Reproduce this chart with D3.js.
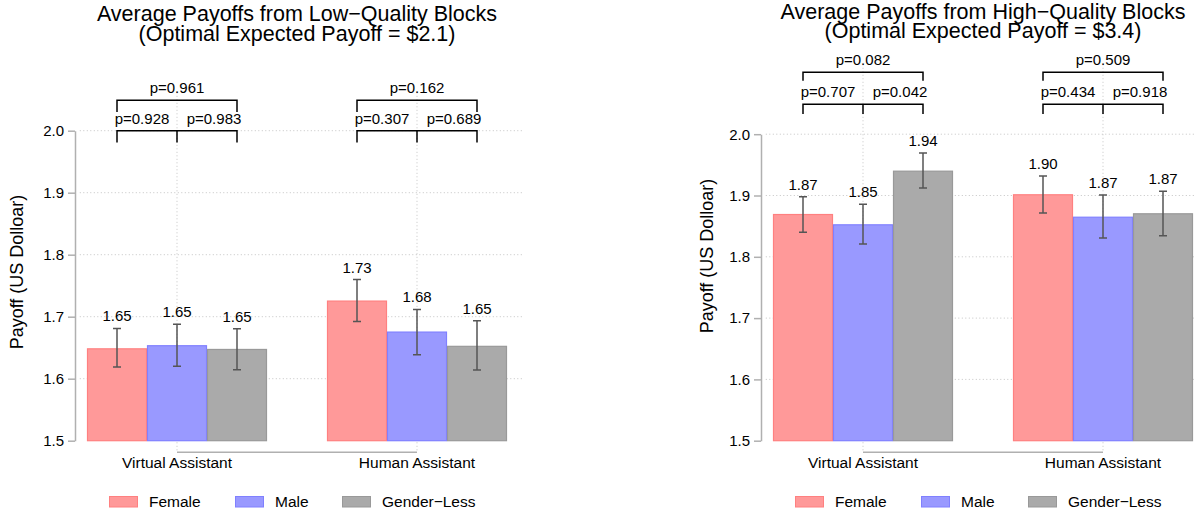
<!DOCTYPE html>
<html>
<head>
<meta charset="utf-8">
<script src="https://cdn.jsdelivr.net/npm/d3@7"></script>
<style>
  body { margin: 0; background: #fff; }
  svg { display: block; }
  text { font-family: "Liberation Sans", Arial, Helvetica, sans-serif; fill: #000; }
</style>
</head>
<body>
<svg id="chart" width="1194" height="514"></svg>
<script>
// Assistant types (groups) and assistant genders (bars within a group)
const groups = ["Virtual Assistant", "Human Assistant"];
const genders = ["Female", "Male", "Gender\u2212Less"];
const yTicks = [1.5, 1.6, 1.7, 1.8, 1.9, 2.0];

// Low-quality blocks: rows = assistant type, columns = gender
const lowMean  = [[1.649, 1.654, 1.648], [1.726, 1.676, 1.653]];
const lowLower = [[1.619, 1.620, 1.6145], [1.6924, 1.6387, 1.614]];
const lowUpper = [[1.681, 1.688, 1.6806], [1.760, 1.7118, 1.6935]];
// pairwise tests: [Female vs Male, Male vs Gender-less, Female vs Gender-less]
const lowP     = [["p=0.928", "p=0.983", "p=0.961"], ["p=0.307", "p=0.689", "p=0.162"]];

// High-quality blocks
const highMean  = [[1.8698, 1.853, 1.9405], [1.902, 1.8654, 1.871]];
const highLower = [[1.840, 1.8209, 1.9122], [1.8715, 1.8307, 1.8344]];
const highUpper = [[1.898, 1.8857, 1.9693], [1.932, 1.9008, 1.9068]];
const highP     = [["p=0.707", "p=0.042", "p=0.082"], ["p=0.434", "p=0.918", "p=0.509"]];

const fills   = ["#ff9999", "#9999ff", "#aaaaaa"];
const borders = ["#ff8080", "#8080ff", "#999999"];

const svg = d3.select("#chart");
const W = 1194;

function panel(cfg) {
  const g = svg.append("g");
  const x = d3.scaleLinear().domain([0, 8]).range([cfg.x0, cfg.x0 + 480]);
  const y = d3.scaleLinear().domain([1.5, 2.0]).range([440.7, cfg.yTop]);
  const left = (gi, si) => 1 + gi * 4 + si;
  const center = (gi, si) => left(gi, si) + 0.5;
  const gCenter = gi => 2.5 + gi * 4;
  const axisY = 452.3;

  // dotted grid
  const grid = g.append("g").attr("stroke", "#c4c4c4").attr("stroke-width", 1)
    .attr("stroke-dasharray", "1,2.5");
  grid.selectAll("line.h").data(yTicks.slice(1)).join("line").attr("class", "h")
    .attr("x1", x(0.88)).attr("x2", Math.min(x(8.28), W))
    .attr("y1", d => y(d)).attr("y2", d => y(d));
  grid.selectAll("line.v").data(groups).join("line").attr("class", "v")
    .attr("x1", (d, i) => x(gCenter(i))).attr("x2", (d, i) => x(gCenter(i)))
    .attr("y1", y(cfg.upLine) - 8).attr("y2", axisY);

  // y axis
  const ax = g.append("g").attr("transform", `translate(${x(0.8)},0)`)
    .call(d3.axisLeft(y).tickValues(yTicks).tickFormat(d3.format(".1f"))
      .tickSize(7).tickSizeOuter(0).tickPadding(4));
  ax.select(".domain").attr("stroke", "#b0b0b0").attr("stroke-width", 1.5);
  ax.selectAll(".tick line").attr("stroke", "#b0b0b0").attr("stroke-width", 1.5);
  ax.selectAll(".tick text").attr("font-size", 15).attr("fill", "#000")
    .style("font-family", "'Liberation Sans', Arial, sans-serif");

  // x axis line and category labels
  g.append("line").attr("x1", x(gCenter(0))).attr("x2", x(gCenter(1)))
    .attr("y1", axisY).attr("y2", axisY).attr("stroke", "#b0b0b0").attr("stroke-width", 1.5);
  g.selectAll("text.cat").data(groups).join("text").attr("class", "cat")
    .attr("x", (d, i) => x(gCenter(i))).attr("y", 467.5)
    .attr("text-anchor", "middle").attr("font-size", 15.5).text(d => d);

  // bars
  const cells = [];
  cfg.mean.forEach((row, gi) => row.forEach((v, si) => cells.push({
    gi, si, v, lo: cfg.lower[gi][si], hi: cfg.upper[gi][si]
  })));
  g.selectAll("rect.bar").data(cells).join("rect").attr("class", "bar")
    .attr("x", d => x(left(d.gi, d.si)) + 0.5)
    .attr("width", x(1) - x(0) - 1)
    .attr("y", d => y(d.v) + 0.5)
    .attr("height", d => y(1.5) - y(d.v) - 0.5)
    .attr("fill", d => fills[d.si]).attr("stroke", d => borders[d.si]).attr("stroke-width", 1.2);

  // error bars
  const eb = g.append("g").attr("stroke", "#555").attr("stroke-width", 1.5).attr("fill", "none");
  eb.selectAll("path").data(cells).join("path").attr("d", d => {
    const cx = x(center(d.gi, d.si)), y0 = y(d.lo), y1 = y(d.hi);
    return `M${cx},${y0}V${y1}M${cx - 4},${y0}H${cx + 4}M${cx - 4},${y1}H${cx + 4}`;
  });

  // value labels
  g.selectAll("text.val").data(cells).join("text").attr("class", "val")
    .attr("x", d => x(center(d.gi, d.si))).attr("y", d => y(d.hi) - 7)
    .attr("text-anchor", "middle").attr("font-size", 15)
    .text(d => d3.format(".2f")(d.v));

  // significance brackets
  const br = g.append("g").attr("stroke", "#000").attr("stroke-width", 1.5).attr("fill", "none");
  groups.forEach((grp, gi) => {
    const c1 = x(center(gi, 0)), c2 = x(center(gi, 1)), c3 = x(center(gi, 2));
    br.append("path").attr("d",
      `M${c1},${y(cfg.upLeg)}V${y(cfg.upLine)}H${c3}V${y(cfg.upLeg)}` +
      `M${c1},${y(cfg.lowLeg)}V${y(cfg.lowLine)}H${c3}V${y(cfg.lowLeg)}` +
      `M${c2},${y(cfg.lowLine)}V${y(cfg.lowLeg)}`);
    const p = cfg.p[gi];
    g.append("text").attr("x", (c1 + c2) / 2 - 5).attr("y", y(cfg.lowLine) - 7)
      .attr("text-anchor", "middle").attr("font-size", 15).text(p[0]);
    g.append("text").attr("x", (c2 + c3) / 2 + 7).attr("y", y(cfg.lowLine) - 7)
      .attr("text-anchor", "middle").attr("font-size", 15).text(p[1]);
    g.append("text").attr("x", c2).attr("y", y(cfg.upLine) - 7)
      .attr("text-anchor", "middle").attr("font-size", 15).text(p[2]);
  });

  // two-line title
  cfg.title.forEach((t, i) => g.append("text").attr("x", x(4.5)).attr("y", cfg.titleY[i])
    .attr("text-anchor", "middle").attr("font-size", 21.5).text(t));

  // y label
  g.append("text").attr("transform", `translate(${cfg.labelX},${cfg.labelY}) rotate(-90)`)
    .attr("text-anchor", "middle").attr("dominant-baseline", "central")
    .attr("font-size", 18).text("Payoff (US Dolloar)");

  // legend
  const legX = [82, 208, 315];
  genders.forEach((name, si) => {
    g.append("rect").attr("x", cfg.x0 + legX[si] + 0.5).attr("y", 496.5)
      .attr("width", 28).attr("height", 10.5)
      .attr("fill", fills[si]).attr("stroke", borders[si]).attr("stroke-width", 1);
    g.append("text").attr("x", cfg.x0 + legX[si] + 40).attr("y", 507)
      .attr("font-size", 15.5).text(name);
  });
}

panel({
  x0: 27, yTop: 130.7, titleY: [21, 40.5], labelX: 17, labelY: 272,
  title: ["Average Payoffs from Low\u2212Quality Blocks", "(Optimal Expected Payoff = $2.1)"],
  mean: lowMean, lower: lowLower, upper: lowUpper, p: lowP,
  lowLine: 2.0, lowLeg: 1.981, upLine: 2.049, upLeg: 2.030
});
panel({
  x0: 713, yTop: 134.2, titleY: [19, 37.5], labelX: 707, labelY: 256,
  title: ["Average Payoffs from High\u2212Quality Blocks", "(Optimal Expected Payoff = $3.4)"],
  mean: highMean, lower: highLower, upper: highUpper, p: highP,
  lowLine: 2.049, lowLeg: 2.033, upLine: 2.101, upLeg: 2.087
});
</script>
</body>
</html>
